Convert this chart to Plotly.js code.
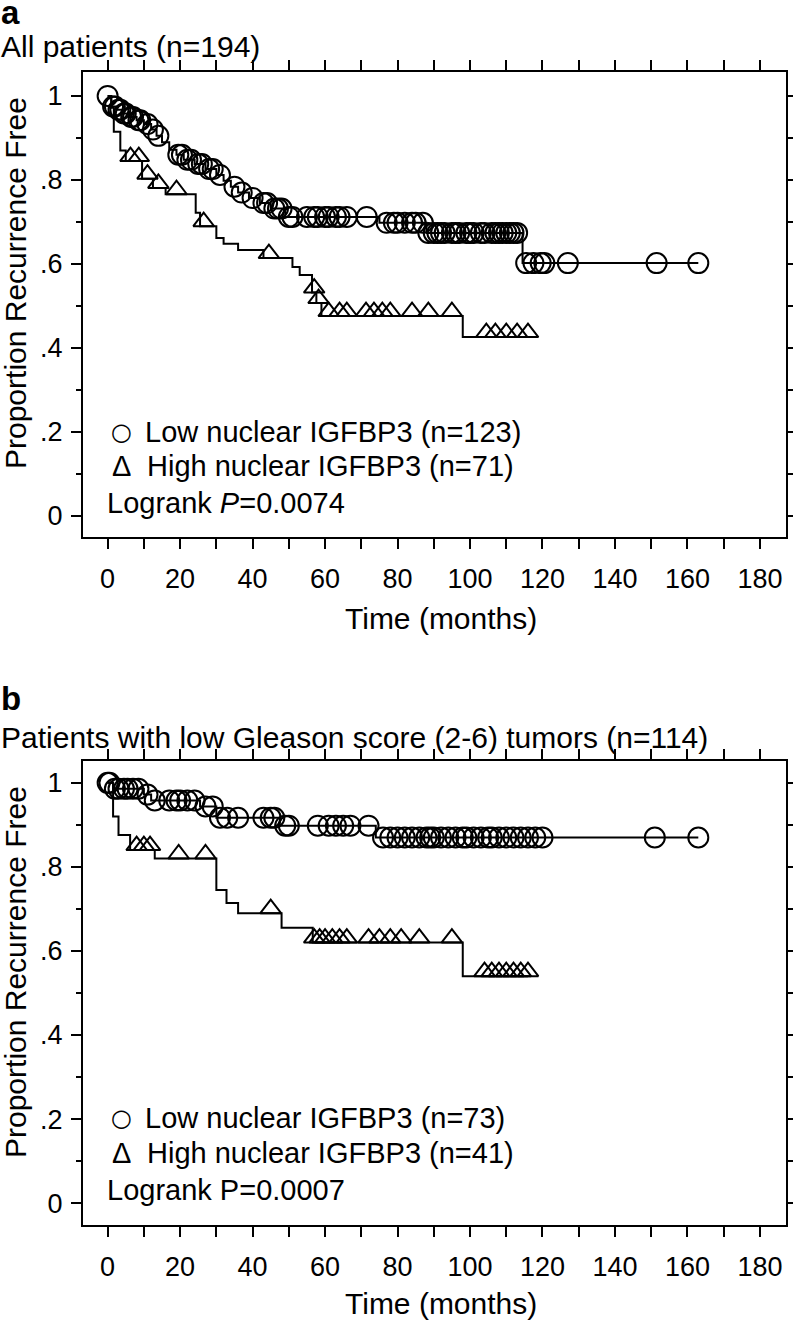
<!DOCTYPE html>
<html>
<head>
<meta charset="utf-8">
<script src="https://cdn.plot.ly/plotly-3.0.1.min.js"></script>
<style>html,body{margin:0;padding:0;background:#fff;}#chart{width:793px;height:1321px;}</style>
</head>
<body>
<div id="chart"></div>
<script>
// ---------------- DATA ----------------
// Panel a: All patients (n=194)
const aLowStepT  = [0, 1, 2.5, 4, 6, 8, 10, 12, 13.5, 15, 17, 19, 21, 24, 27, 30, 32, 34, 36, 39, 42, 45, 49, 75, 88, 114.5];
const aLowStepS  = [1, 0.975, 0.967, 0.958, 0.950, 0.942, 0.933, 0.920, 0.905, 0.890, 0.872, 0.860, 0.848, 0.838, 0.826, 0.812, 0.798, 0.784, 0.770, 0.757, 0.745, 0.732, 0.712, 0.698, 0.674, 0.602];
const aLowCensT  = [0, 1.5, 2, 3, 3.5, 4.5, 5, 6.5, 7, 8.5, 9, 11, 12.5, 14, 19.5, 20.5, 22, 23, 25, 26, 28, 29, 31, 35, 37, 40, 43, 44, 46, 47, 48, 50, 51, 55, 57, 58, 60, 61, 63, 64, 66, 71.5, 77, 79, 80, 82, 84, 85, 87, 88.5, 90, 91, 92, 93, 95, 96, 97, 99, 100, 101, 103, 104, 106, 107, 108, 109, 110, 111, 112, 113, 115.5, 117.5, 119.5, 120.5, 127, 151.5, 163];

const aHighStepT = [0, 1, 1.7, 3.5, 5, 9.5, 12.5, 16, 24.3, 25.5, 30, 32, 36, 43, 51, 53, 56.4, 57.6, 59, 98];
const aHighStepS = [1, 0.972, 0.915, 0.870, 0.845, 0.803, 0.781, 0.766, 0.722, 0.690, 0.662, 0.648, 0.633, 0.614, 0.593, 0.574, 0.532, 0.507, 0.476, 0.426];
const aHighCensT = [6.3, 8.6, 11, 14, 19, 26.5, 44.5, 57, 58.2, 61, 64, 66, 71.3, 73.5, 75.8, 78, 84, 88.5, 95, 104.5, 107, 110, 113, 116];

// Panel b: Patients with low Gleason score (2-6) tumors (n=114)
const bLowStepT  = [0, 1.5, 10, 12, 25.5, 30, 47.5, 74];
const bLowStepS  = [1, 0.986, 0.972, 0.958, 0.944, 0.917, 0.898, 0.870];
const bLowCensT  = [0, 0.5, 2, 3, 4.5, 5.5, 7, 8.5, 11, 13, 17, 19, 20, 22, 24, 27, 29, 31, 33, 36, 43, 45, 46, 49, 50, 58, 61, 63, 65, 67, 72, 76, 78, 80, 82, 84, 86, 88, 89, 90, 92, 94, 96, 98, 99, 101, 103, 105, 106, 108, 110, 112, 114, 116, 118, 120, 151, 163];

const bHighStepT = [0, 1.5, 3, 6.2, 13, 30, 32.8, 36, 48, 56.6, 98];
const bHighStepS = [1, 0.920, 0.876, 0.840, 0.820, 0.745, 0.714, 0.690, 0.655, 0.620, 0.540];
const bHighCensT = [8, 10, 11.7, 19.6, 27, 45, 57, 58.5, 60, 62, 64, 66, 72, 75, 78, 81, 86, 95, 104, 106, 108, 110, 112, 114, 116];

// Tick labels
const xTickVals = [0, 20, 40, 60, 80, 100, 120, 140, 160, 180];
const xMinorVals = [10, 30, 50, 70, 90, 110, 130, 150, 170];
const yTickVals = [0, 0.2, 0.4, 0.6, 0.8, 1];
const yTickText = ['0', '.2', '.4', '.6', '.8', '1'];
const yMinorVals = [0.1, 0.3, 0.5, 0.7, 0.9];

// Texts
const panelLabels = ['a', 'b'];
const panelTitles = ['All patients (n=194)', 'Patients with low Gleason score (2-6) tumors (n=114)'];
const lowLabels = ['Low nuclear IGFBP3 (n=123)', 'Low nuclear IGFBP3 (n=73)'];
const highLabels = ['High nuclear IGFBP3 (n=71)', 'High nuclear IGFBP3 (n=41)'];
const pLabels = ['Logrank <i>P</i>=0.0074', 'Logrank P=0.0007'];
const xTitle = 'Time (months)';
const yTitle = 'Proportion Recurrence Free';

// ---------------- helpers ----------------
const W = 793, H = 1321;
const FONT = 'Liberation Sans, Arial, sans-serif';
function levelAt(stepT, stepS, t) {
  let s = stepS[0];
  for (let i = 0; i < stepT.length; i++) { if (stepT[i] <= t) s = stepS[i]; }
  return s;
}
function curveTraces(stepT, stepS, censT, xa, ya, yaTri, sym) {
  const lastT = censT[censT.length - 1];
  const lx = stepT.concat([Math.max(lastT, stepT[stepT.length - 1])]);
  const ly = stepS.concat([stepS[stepS.length - 1]]);
  const line = {x: lx, y: ly, type: 'scatter', mode: 'lines', xaxis: xa, yaxis: ya,
    line: {shape: 'hv', color: '#000', width: 2}, hoverinfo: 'skip'};
  const marks = {x: censT, y: censT.map(t => levelAt(stepT, stepS, t)), type: 'scatter', mode: 'markers',
    xaxis: xa, yaxis: sym === 'tri' ? yaTri : ya,
    marker: sym === 'tri'
      ? {symbol: 'triangle-up-open', size: 18, color: '#000', line: {width: 2, color: '#000'}}
      : {symbol: 'circle-open', size: 20, color: '#000', line: {width: 2, color: '#000'}},
    hoverinfo: 'skip'};
  return [line, marks];
}

const traces = [].concat(
  curveTraces(aLowStepT, aLowStepS, aLowCensT, 'x', 'y', 'y3', 'circ'),
  curveTraces(aHighStepT, aHighStepS, aHighCensT, 'x', 'y', 'y3', 'tri'),
  curveTraces(bLowStepT, bLowStepS, bLowCensT, 'x2', 'y2', 'y4', 'circ'),
  curveTraces(bHighStepT, bHighStepS, bHighCensT, 'x2', 'y2', 'y4', 'tri')
);

// ---------------- layout ----------------
const frames = [ {top: 72, bottom: 537, yr: [-0.05, 1.057]}, {top: 761, bottom: 1225, yr: [-0.052, 1.052]} ];
const xLeft = 83, xRight = 786, xRange = [-6.8, 187.2];
const triShiftPx = 4.5;

function xAxis(anchor) {
  return {domain: [xLeft / W, xRight / W], range: xRange, anchor: anchor,
    tickmode: 'array', tickvals: xTickVals, ticktext: xTickVals.map(String),
    ticks: 'outside', ticklen: 10, tickwidth: 2, tickcolor: '#000',
    minor: {tickmode: 'array', tickvals: xMinorVals, ticks: 'outside', ticklen: 5, tickwidth: 2, tickcolor: '#000'},
    showline: true, linewidth: 2, linecolor: '#000', mirror: 'allticks',
    showgrid: false, zeroline: false, ticklabelstandoff: 7,
    tickfont: {family: FONT, size: 27, color: '#000'}, fixedrange: true};
}
function yAxis(anchor, f) {
  return {domain: [1 - f.bottom / H, 1 - f.top / H], range: f.yr, anchor: anchor,
    tickmode: 'array', tickvals: yTickVals, ticktext: yTickText,
    ticks: 'outside', ticklen: 10, tickwidth: 2, tickcolor: '#000',
    minor: {tickmode: 'array', tickvals: yMinorVals, ticks: 'outside', ticklen: 5, tickwidth: 2, tickcolor: '#000'},
    showline: true, linewidth: 2, linecolor: '#000', mirror: 'allticks',
    showgrid: false, zeroline: false, ticklabelstandoff: 3,
    tickfont: {family: FONT, size: 27, color: '#000'}, fixedrange: true};
}
function yOverlay(base, f) {
  const pxPerUnit = (f.bottom - f.top) / (f.yr[1] - f.yr[0]);
  const d = triShiftPx / pxPerUnit;
  return {overlaying: base, range: [f.yr[0] - d, f.yr[1] - d], visible: false, showgrid: false, zeroline: false, fixedrange: true,
    domain: [1 - f.bottom / H, 1 - f.top / H]};
}

function ann(text, px, py, size, xanchor, extra) {
  return Object.assign({xref: 'paper', yref: 'paper', x: px / W, y: 1 - py / H, text: text, showarrow: false,
    xanchor: xanchor, yanchor: 'middle', font: {family: FONT, size: size, color: '#000'}}, extra || {});
}

const annotations = [];
const panelPos = [
  {lab: 13, title: 46, ytitle: 283, low: 432, high: 466, p: 503, xt: 618},
  {lab: 698, title: 737, ytitle: 972, low: 1118, high: 1153, p: 1190, xt: 1303}
];
panelPos.forEach((p, i) => {
  annotations.push(ann('<b>' + panelLabels[i] + '</b>', 0, p.lab, 33, 'left', {borderpad: 0}));
  annotations.push(ann(panelTitles[i], 0, p.title, 30, 'left', {borderpad: 0}));
  annotations.push(ann(yTitle, 15, p.ytitle, 30, 'center', {textangle: -90, borderpad: 0}));
  annotations.push(ann('\u25CB', 121, p.low, 24, 'center', {font: {family: 'DejaVu Sans', size: 24, color: '#000'}}));
  annotations.push(ann(lowLabels[i], 143, p.low, 29, 'left'));
  annotations.push(ann('\u0394', 121, p.high, 29, 'center'));
  annotations.push(ann(highLabels[i], 145, p.high, 29, 'left'));
  annotations.push(ann(pLabels[i], 105, p.p, 29, 'left'));
  annotations.push(ann(xTitle, 441, p.xt, 30, 'center'));
});

const layout = {
  width: W, height: H, margin: {l: 0, r: 0, t: 0, b: 0},
  paper_bgcolor: '#fff', plot_bgcolor: '#fff', showlegend: false,
  xaxis: xAxis('y'), yaxis: yAxis('x', frames[0]),
  xaxis2: xAxis('y2'), yaxis2: yAxis('x2', frames[1]),
  yaxis3: yOverlay('y', frames[0]), yaxis4: yOverlay('y2', frames[1]),
  annotations: annotations,
  font: {family: FONT, color: '#000'}
};

Plotly.newPlot('chart', traces, layout, {staticPlot: true, displayModeBar: false});
</script>
</body>
</html>
